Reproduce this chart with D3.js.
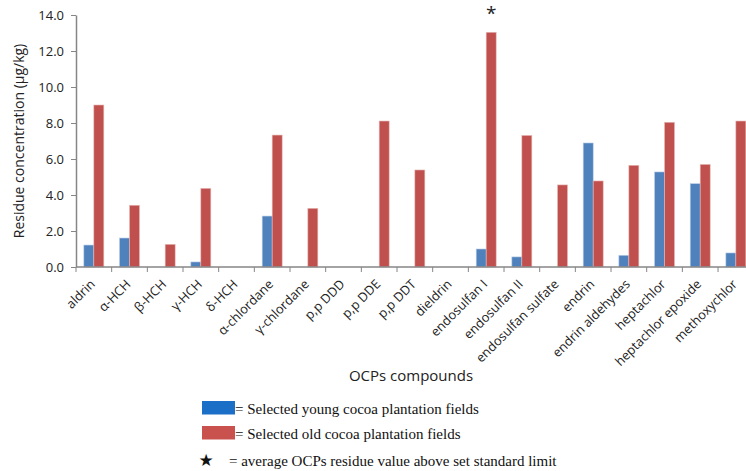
<!DOCTYPE html>
<html>
<head>
<meta charset="utf-8">
<script src="https://cdn.jsdelivr.net/npm/d3@7/dist/d3.min.js"></script>
<style>
  html, body { margin: 0; padding: 0; background: #fff; overflow: hidden; }
  svg { display: block; }
</style>
</head>
<body>
<svg id="chart" width="746" height="471"></svg>
<script>
// OCP residue concentrations (µg/kg) by compound
const compounds = [
  "aldrin", "α-HCH", "β-HCH", "γ-HCH", "δ-HCH", "α-chlordane", "γ-chlordane",
  "p,p DDD", "p,p DDE", "p,p DDT", "dieldrin", "endosulfan I", "endosulfan II",
  "endosulfan sulfate", "endrin", "endrin aldehydes", "heptachlor",
  "heptachlor epoxide", "methoxychlor"
];
const youngFields = [1.22, 1.61, 0, 0.28, 0, 2.83, 0, 0, 0, 0, 0, 1.0, 0.56, 0, 6.89, 0.65, 5.28, 4.63, 0.78];
const oldFields   = [9.0, 3.43, 1.26, 4.37, 0, 7.33, 3.26, 0, 8.11, 5.39, 0, 13.04, 7.31, 4.56, 4.78, 5.65, 8.04, 5.70, 8.11];
const yTicks = [0, 2, 4, 6, 8, 10, 12, 14];
const flagged = ["endosulfan I"];

const seriesKeys = ["young", "old"];
const seriesColors = { young: "#4F81BD", old: "#C0504D" };

const svg = d3.select("#chart");
const width = 746, height = 471;
// plot area runs slightly past the right edge of the canvas
const plotLeft = 76, plotRight = 753.7, plotTop = 15, plotBottom = 267;

const x = d3.scaleBand()
  .domain(compounds)
  .range([plotLeft, plotRight])
  .paddingInner(0).paddingOuter(0);

const groupWidth = x.bandwidth() * 0.56;
const x1 = d3.scaleBand()
  .domain(seriesKeys)
  .range([(x.bandwidth() - groupWidth) / 2, (x.bandwidth() + groupWidth) / 2])
  .padding(0);

const y = d3.scaleLinear().domain([0, 14]).range([plotBottom, plotTop]);

const rows = compounds.map((c, i) => ({ name: c, young: youngFields[i], old: oldFields[i] }));

const fontSans = "'Open Sans', 'Noto Sans', sans-serif";
const axisGrey = "#868686";

// Bars
const groups = svg.append("g").selectAll("g")
  .data(rows).join("g")
  .attr("transform", d => `translate(${x(d.name)},0)`);

groups.selectAll("rect")
  .data(d => seriesKeys.map(k => ({ key: k, value: d[k] })).filter(e => e.value > 0))
  .join("rect")
  .attr("x", e => x1(e.key))
  .attr("width", x1.bandwidth())
  .attr("y", e => y(e.value))
  .attr("height", e => y(0) - y(e.value))
  .attr("fill", e => seriesColors[e.key])
  .attr("stroke", e => e.key === "old" ? "#e6b9b8" : "#b9cde5")
  .attr("stroke-width", 0.6);

// Y axis
const yAxis = d3.axisLeft(y)
  .tickValues(yTicks)
  .tickFormat(d3.format(".1f"))
  .tickSizeInner(5).tickSizeOuter(0).tickPadding(7);
const gy = svg.append("g")
  .attr("transform", `translate(${plotLeft},0)`)
  .call(yAxis);
gy.select(".domain").attr("stroke", axisGrey).attr("stroke-width", 1.5);
gy.selectAll(".tick line").attr("stroke", axisGrey).attr("stroke-width", 1);
gy.selectAll(".tick text")
  .attr("font-family", fontSans).attr("font-size", 13).attr("fill", "#222");

// X axis: ticks at category boundaries
const gx = svg.append("g").attr("transform", `translate(0,${plotBottom})`);
gx.append("line")
  .attr("x1", plotLeft).attr("x2", plotRight)
  .attr("stroke", axisGrey).attr("stroke-width", 1.5);
const boundaries = compounds.map(c => x(c)).concat([plotRight]);
gx.selectAll("line.tick")
  .data(boundaries).join("line")
  .attr("class", "tick")
  .attr("x1", d => d).attr("x2", d => d)
  .attr("y1", 0).attr("y2", 5)
  .attr("stroke", axisGrey).attr("stroke-width", 1);
gx.selectAll("text")
  .data(compounds).join("text")
  .attr("transform", d => `translate(${x(d) + x.bandwidth() / 2 + 2},${18}) rotate(-45)`)
  .attr("text-anchor", "end")
  .attr("font-family", fontSans)
  .attr("font-size", 12.8)
  .attr("fill", "#222")
  .text(d => d);

// Flag above compounds exceeding the standard limit
svg.selectAll("text.flag")
  .data(flagged).join("text")
  .attr("class", "flag")
  .attr("x", d => x(d) + x1("old") + x1.bandwidth() / 2)
  .attr("y", d => y(oldFields[compounds.indexOf(d)]) - 12)
  .attr("text-anchor", "middle")
  .attr("font-family", fontSans)
  .attr("font-size", 19)
  .attr("fill", "#222")
  .text("*");

// Axis titles
svg.append("text")
  .attr("transform", `translate(24,${(plotTop + plotBottom) / 2}) rotate(-90)`)
  .attr("text-anchor", "middle")
  .attr("font-family", fontSans).attr("font-size", 14).attr("fill", "#222")
  .text("Residue concentration (µg/kg)");

svg.append("text")
  .attr("x", 411).attr("y", 381)
  .attr("text-anchor", "middle")
  .attr("font-family", fontSans).attr("font-size", 15).attr("fill", "#222")
  .text("OCPs compounds");

// Legend
const legendFont = "'Liberation Serif', 'Times New Roman', serif";
const legend = svg.append("g");
const legendItems = [
  { color: "#1c6fc6", label: "= Selected young cocoa plantation fields", y: 401 },
  { color: "#c9524f", label: "= Selected old cocoa plantation fields", y: 426 }
];
legend.selectAll("rect")
  .data(legendItems).join("rect")
  .attr("x", 202).attr("y", d => d.y)
  .attr("width", 33).attr("height", 13.5)
  .attr("fill", d => d.color);
legend.selectAll("text.item")
  .data(legendItems).join("text")
  .attr("class", "item")
  .attr("x", 235).attr("y", d => d.y + 12.5)
  .attr("font-family", legendFont).attr("font-size", 15).attr("fill", "#111")
  .text(d => d.label);
legend.append("text")
  .attr("x", 206).attr("y", 466)
  .attr("text-anchor", "middle")
  .attr("font-family", "'DejaVu Sans', sans-serif").attr("font-size", 17).attr("fill", "#111")
  .text("★");
legend.append("text")
  .attr("x", 229).attr("y", 466)
  .attr("font-family", legendFont).attr("font-size", 15).attr("fill", "#111")
  .text("= average OCPs residue value above set standard limit");
</script>
</body>
</html>
